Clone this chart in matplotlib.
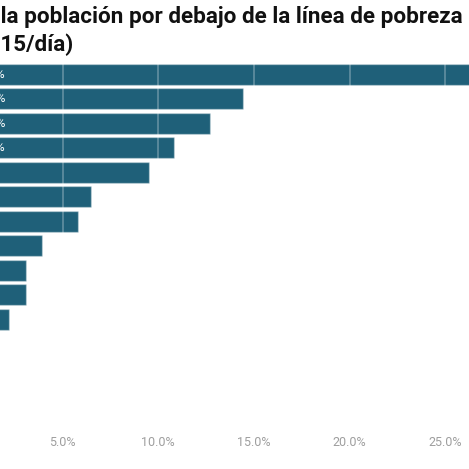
import matplotlib
matplotlib.use("Agg")
import matplotlib.pyplot as plt

plt.rcParams["font.family"] = ["Roboto", "DejaVu Sans"]

values = [28.0, 14.4, 12.7, 10.8, 9.5, 6.5, 5.8, 3.9, 3.1, 3.1, 2.2]
value_labels = ["28.0%", "14.4%", "12.7%", "10.8%"]   # only the "%" is visible
x_ticks = [5, 10, 15, 20, 25]
x_ticklabels = ["5.0%", "10.0%", "15.0%", "20.0%", "25.0%"]
title_1 = "% de la población por debajo de la línea de pobreza"
title_2 = "($2.15/día)"

BAR = "#1f6079"
W = H = 469
fig = plt.figure(figsize=(W / 100, H / 100), dpi=100)

# axes are wider than the canvas: the reference is a crop of a bigger chart
px_per_pct = 19.14
x0 = -33.1
xmax = 27.5
top, pitch, n_slots = 62, 24.5, 15
ax = fig.add_axes([x0 / W, 1 - (top + n_slots * pitch) / H,
                   xmax * px_per_pct / W, n_slots * pitch / H])

pos = list(range(len(values)))
ax.barh(pos, values, height=0.84, color=BAR,
        edgecolor=(1, 1, 1, 0.35), linewidth=1.0, zorder=1)
ax.set_xlim(0, xmax)
ax.set_ylim(n_slots - 0.5, -0.5)

ax.set_axisbelow(False)
ax.grid(axis="x", color="white", alpha=0.3, linewidth=1.2, zorder=2)
ax.grid(axis="y", visible=False)
ax.set_xticks(x_ticks)
ax.set_xticklabels(x_ticklabels, color="#9e9e9e", fontsize=9)
ax.set_yticks([])
ax.tick_params(axis="x", length=0, pad=5)
for s in ax.spines.values():
    s.set_visible(False)

for i, lab in enumerate(value_labels):
    ax.text((5 - x0) / px_per_pct, i, lab, color="white", fontsize=9,
            ha="right", va="center", zorder=3)

fig.text(463 / W, 1 - 23 / H, title_1, ha="right", va="baseline",
         fontsize=16.2, fontweight="bold", color="#111111")
fig.text(74 / W, 1 - 50 / H, title_2, ha="right", va="baseline",
         fontsize=16.2, fontweight="bold", color="#111111")

fig.savefig("out.png", dpi=100)
